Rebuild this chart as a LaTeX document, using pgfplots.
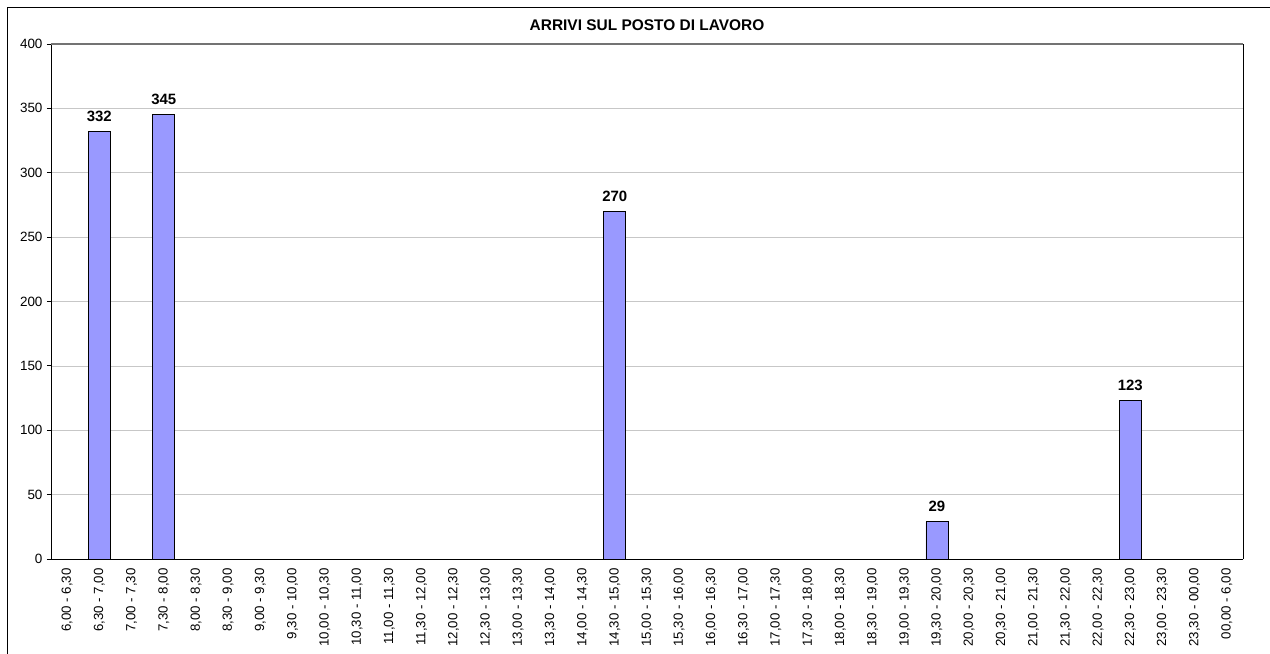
\documentclass[border=0pt]{standalone}
\usepackage{pgfplots}
\pgfplotsset{compat=1.18}
\usepackage{fontspec}
\setmainfont{Liberation Sans}
\definecolor{barfill}{HTML}{9999FF}
\begin{document}
\begin{tikzpicture}
\useasboundingbox (0,0) rectangle (1270bp,654bp);
\draw[line width=1.3bp] (7.5bp,0) -- (7.5bp,646.5bp) -- (1270bp,646.5bp);
\begin{axis}[
  at={(51bp,95bp)}, anchor=south west,
  width=1192bp, height=515bp, scale only axis,
  xmin=-0.5, xmax=36.5, ymin=0, ymax=400,
  axis x line*=bottom, axis y line*=left,
  axis line style={black, line width=0.9bp},
  /pgf/number format/assume math mode=true,
  ytick={0,50,...,400},
  ymajorgrids, grid style={color=black!22, line width=0.7bp},
  y tick label style={font=\fontsize{13.5}{15}\selectfont, xshift=-1bp},
  ytick style={black, line width=0.9bp},
  tick align=outside, major tick length=4bp,
  xtick={0,...,36},
  xticklabels={{6,00 - 6,30},{6,30 - 7,00},{7,00 - 7,30},{7,30 - 8,00},{8,00 - 8,30},{8,30 - 9,00},{9,00 - 9,30},{9,30 - 10,00},{10,00 - 10,30},{10,30 - 11,00},{11,00 - 11,30},{11,30 - 12,00},{12,00 - 12,30},{12,30 - 13,00},{13,00 - 13,30},{13,30 - 14,00},{14,00 - 14,30},{14,30 - 15,00},{15,00 - 15,30},{15,30 - 16,00},{16,00 - 16,30},{16,30 - 17,00},{17,00 - 17,30},{17,30 - 18,00},{18,00 - 18,30},{18,30 - 19,00},{19,00 - 19,30},{19,30 - 20,00},{20,00 - 20,30},{20,30 - 21,00},{21,00 - 21,30},{21,30 - 22,00},{22,00 - 22,30},{22,30 - 23,00},{23,00 - 23,30},{23,30 - 00,00},{00,00 - 6,00}},
  x tick label style={font=\fontsize{13.3}{15}\selectfont, rotate=90, anchor=east, xshift=-2bp},
  xtick style={draw=none},
  extra x ticks={-0.5,0.5,...,36.5},
  extra x tick labels={},
  extra x tick style={grid=none, tick style={black, line width=0.9bp, draw=black}},
  title={ARRIVI SUL POSTO DI LAVORO},
  title style={font=\bfseries\fontsize{15.5}{17}\selectfont, at={(0.5,1)}, anchor=base, yshift=8bp},
  nodes near coords,
  every node near coord/.append style={font=\bfseries\fontsize{15}{17}\selectfont, anchor=base, yshift=10bp},
  clip=false,
]
\addplot[ybar, bar width=22bp, fill=barfill, draw=black, line width=0.8bp] coordinates {
  (1,332) (3,345) (17,270) (27,29) (33,123)
};
\draw[black!55, line width=1.2bp] (rel axis cs:0,1) -- (rel axis cs:1,1);
\draw[black, line width=0.9bp] (rel axis cs:1,0) -- (rel axis cs:1,1);
\end{axis}
\end{tikzpicture}
\end{document}
